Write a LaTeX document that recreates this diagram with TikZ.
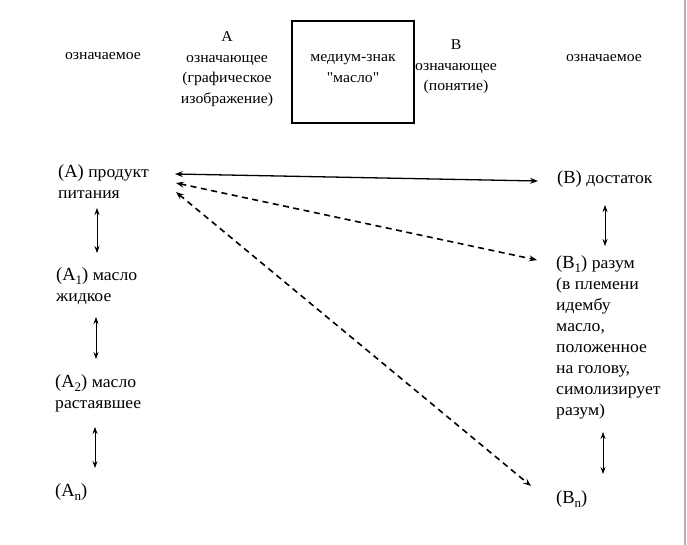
\documentclass[tikz,border=0pt]{standalone}
\usepackage{fontspec}
\setmainfont{Liberation Serif}[FakeStretch=1.05]
\newfontfamily\capfont{Liberation Serif}
\newfontfamily\qfont{Liberation Serif}[FakeStretch=1.05]
\usetikzlibrary{arrows.meta}
\newcommand{\Cap}[1]{{\capfont\fontsize{18.5}{20}\selectfont #1}}
\newcommand{\Sb}[1]{\raisebox{-4.5pt}{\fontsize{13}{13}\selectfont #1}}
\begin{document}
\begin{tikzpicture}[x=1pt,y=-1pt,
  txt/.style={inner sep=0pt,font=\fontsize{16.8}{21}\selectfont,align=left},
  ctxt/.style={inner sep=0pt,font=\fontsize{15}{20.5}\selectfont,align=center},
  conn/.style={line width=1.3pt,{Stealth[length=8pt,width=6pt,inset=3pt]}-{Stealth[length=8pt,width=6pt,inset=3pt]}},
  dconn/.style={conn,dash pattern=on 6pt off 4.5pt,line width=1.6pt},
  vconn/.style={line width=0.8pt,{Stealth[length=7pt,width=5pt,inset=2.5pt]}-{Stealth[length=7pt,width=5pt,inset=2.5pt]}}]
\useasboundingbox (0,0) rectangle (687,545);
\fill[white] (0,0) rectangle (687,545);
\draw[gray!60,line width=2pt] (685,0) -- (685,545);
% header
\node[ctxt,anchor=base] (h1) at (103,60) {означаемое};
\node[ctxt,anchor=base] (h2) at (227,103.5) {A\\означающее\\(графическое\\изображение)};
\node[draw,line width=1.4pt,minimum width=122pt,minimum height=102pt,inner sep=0pt] (box) at (353,72) {};
\node[ctxt,anchor=base] (h3) at (353,82.5) {медиум-знак\\{\qfont"масло"}};
\node[ctxt,anchor=base] (h4) at (456,91) {B\\означающее\\(понятие)};
\node[ctxt,anchor=base] (h5) at (604,62) {означаемое};
% left column
\node[txt,anchor=base west] (A) at (58,199) {\Cap{(A)} продукт\\питания};
\node[txt,anchor=base west] (A1) at (56,301) {\Cap{(A\Sb{1})} масло\\жидкое};
\node[txt,anchor=base west] (A2) at (55,408) {\Cap{(A\Sb{2})} масло\\растаявшее};
\node[txt,anchor=base west] (An) at (55,496) {\Cap{(A\Sb{n})}};
% right column
\node[txt,anchor=base west] (B) at (557,184) {\Cap{(B)} достаток};
\node[txt,anchor=base west] (B1) at (556,415) {\Cap{(B\Sb{1})} разум\\(в племени\\идембу\\масло,\\положенное\\на голову,\\симолизирует\\разум)};
\node[txt,anchor=base west] (Bn) at (556,503) {\Cap{(B\Sb{n})}};
% arrow endpoints
\coordinate (a0) at (175,174);
\coordinate (a1) at (176,183);
\coordinate (a2) at (176,192);
\coordinate (b0) at (538,181);
\coordinate (b1) at (537,260);
\coordinate (b2) at (531,486);
\draw[conn] (a0) -- (b0);
\draw[dconn] (a1) -- (b1);
\draw[dconn] (a2) -- (b2);
% vertical arrows
\coordinate (v1t) at (97,208); \coordinate (v1b) at (97,253);
\coordinate (v2t) at (96,317); \coordinate (v2b) at (96,359);
\coordinate (v3t) at (95,427); \coordinate (v3b) at (95,468);
\coordinate (w1t) at (605,205); \coordinate (w1b) at (605,246);
\coordinate (w2t) at (603,432); \coordinate (w2b) at (603,474);
\draw[vconn] (v1t) -- (v1b);
\draw[vconn] (v2t) -- (v2b);
\draw[vconn] (v3t) -- (v3b);
\draw[vconn] (w1t) -- (w1b);
\draw[vconn] (w2t) -- (w2b);
\end{tikzpicture}
\end{document}
